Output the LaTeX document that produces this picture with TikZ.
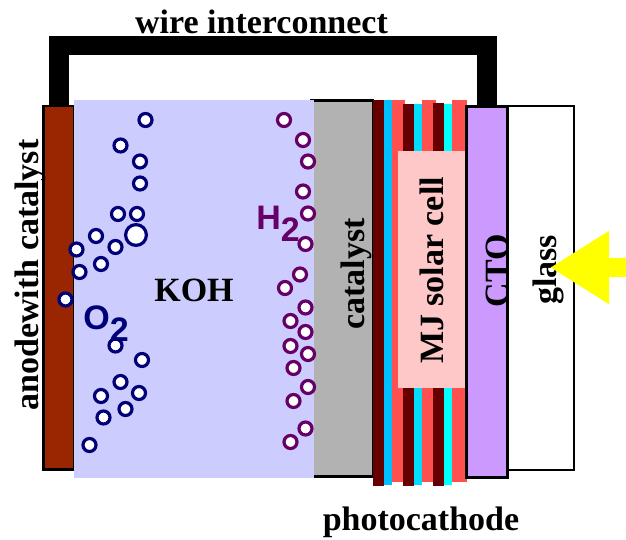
\documentclass[tikz,border=0pt]{standalone}
\usepackage{fontspec}
\setmainfont{Liberation Serif}
\newfontfamily\gasfont{Liberation Sans}
\definecolor{Anodecolor}{RGB}{153,38,0}
\definecolor{Kohcolor}{RGB}{204,204,255}
\definecolor{Catcolor}{RGB}{178,178,178}
\definecolor{Ctocolor}{RGB}{204,153,255}
\definecolor{Cellcolor}{RGB}{255,200,200}
\definecolor{Darkred}{RGB}{102,0,0}
\definecolor{Redlayer}{RGB}{255,80,80}
\definecolor{Bluelayer}{RGB}{0,191,255}
\definecolor{Cyanlayer}{RGB}{0,221,255}
\definecolor{Purecyan}{RGB}{0,255,255}
\definecolor{Lightcolor}{RGB}{255,255,0}
\definecolor{Oxcolor}{RGB}{0,0,120}
\definecolor{Hycolor}{RGB}{102,0,102}
\usetikzlibrary{arrows.meta}

\begin{document}
\begin{tikzpicture}[
  x=1pt, y=-1pt,
  layerbox/.style={rectangle, anchor=north west, inner sep=0pt, outer sep=0pt},
  lbl/.style={font=\fontsize{34}{36}\selectfont\bfseries, inner sep=0pt},
  wirepath/.style={line width=19.5pt, black},
  bubble/.style={circle, fill=white, inner sep=0pt, outer sep=0pt, line width=3.2pt, minimum size=13pt},
  oxbubble/.style={bubble, draw=Oxcolor},
  hybubble/.style={bubble, draw=Hycolor},
  gas/.style={font=\gasfont\fontsize{34}{36}\selectfont\bfseries, inner sep=0pt}
]
\useasboundingbox (0,0) rectangle (626,540);

%% --- ELECTRODES ---
\node[layerbox, draw=black, line width=2.5pt, fill=Anodecolor,
      minimum width=31pt, minimum height=363.5pt] (anode) at (43.5,106) {};
\node[layerbox, draw=black, line width=2.5pt, fill=Catcolor,
      minimum width=62pt, minimum height=376pt] (catalyst) at (311,100.5) {};

%% --- KOH ---
\node[layerbox, fill=Kohcolor,
      minimum width=240pt, minimum height=378pt] (koh) at (74,100) {};

%% --- PHOTOCATHODE LAYERS ---
\foreach \xa/\xb/\ya/\yb/\col in {
    391.5/405/100/482/Redlayer, 422/436/100/482/Redlayer, 452/467/100/482/Redlayer,
    373/383.5/100/485.7/Darkred, 383.5/391.5/100/485/Bluelayer,
    403/413.5/104/485.7/Darkred, 413.5/422/104/485/Cyanlayer,
    433/444/103/485.7/Darkred, 444/452/104/485/Purecyan}
  \fill[\col] (\xa,\ya) rectangle (\xb,\yb);

\node[layerbox, fill=Cellcolor,
      minimum width=67pt, minimum height=237pt] (cell) at (398,151) {};

%% --- GLASS AND CTO ---
\node[layerbox, draw=black, line width=2.5pt, fill=white,
      minimum width=67pt, minimum height=364pt] (glass) at (507,106) {};
\node[layerbox, draw=black, line width=3pt, fill=Ctocolor,
      minimum width=40.5pt, minimum height=370.5pt] (cto) at (466.5,106.5) {};

%% --- WIRE ---
\coordinate (wiretop) at (270,45.5);
\draw[wirepath] (anode.north) |- (wiretop) -| (cto.north);

%% --- BUBBLES ---
\foreach \bx/\by [count=\i] in {145.5/120, 120.5/145.5, 140/161.5, 140/183.5, 118/214,
    137/214, 96/236, 115.5/247, 76.5/249.5, 101/264, 79.5/272, 65.5/299.5,
    115.5/345.5, 142/360, 120.5/382, 101/396, 139/393, 125.5/409, 103.5/417.5, 89.5/445}
  \node[oxbubble] (ox\i) at (\bx,\by) {};
\node[oxbubble, minimum size=20.8pt] (oxbig) at (136,235) {};

\foreach \bx/\by [count=\i] in {284/120, 303/140, 308/161.5, 303/191.5, 308/213.5,
    305.5/244, 300/274.5, 285/288, 305.5/307.5, 290.5/321, 305.5/332, 290.5/346,
    308/354, 293.5/368, 308/387, 293.5/401, 305.5/428.5, 290.5/442}
  \node[hybubble] (hy\i) at (\bx,\by) {};

%% --- LABELS ---
\node[lbl] (wirelbl) at (261.5,22) {wire interconnect};
\node[lbl, rotate=90] (anodelbl) at (30,275) {anodewith catalyst};
\node[lbl] (kohlbl) at (194,290) {KOH};
\node[lbl, rotate=90] (catlbl) at (356,274) {catalyst};
\node[lbl, rotate=90] (celllbl) at (432,270.5) {MJ solar cell};
\node[lbl, rotate=90] (ctolbl) at (497.5,271) {CTO};
\node[lbl, rotate=90] (glasslbl) at (548,270) {glass};
\node[lbl] (photolbl) at (421,522) {photocathode};
\node[gas, text=Oxcolor] (oxlbl) at (106,324) {O\raisebox{-12pt}{2}};
\node[gas, text=Hycolor] (hylbl) at (278,224) {H\raisebox{-12pt}{2}};

%% --- LIGHT ARROW ---
\coordinate (lightsrc) at (626,267.5);
\coordinate (lighttip) at (550,267.5);
\draw[-{Triangle[length=59pt, width=69pt]}, Lightcolor, line width=19.5pt] (lightsrc) -- (lighttip);

\end{tikzpicture}
\end{document}
